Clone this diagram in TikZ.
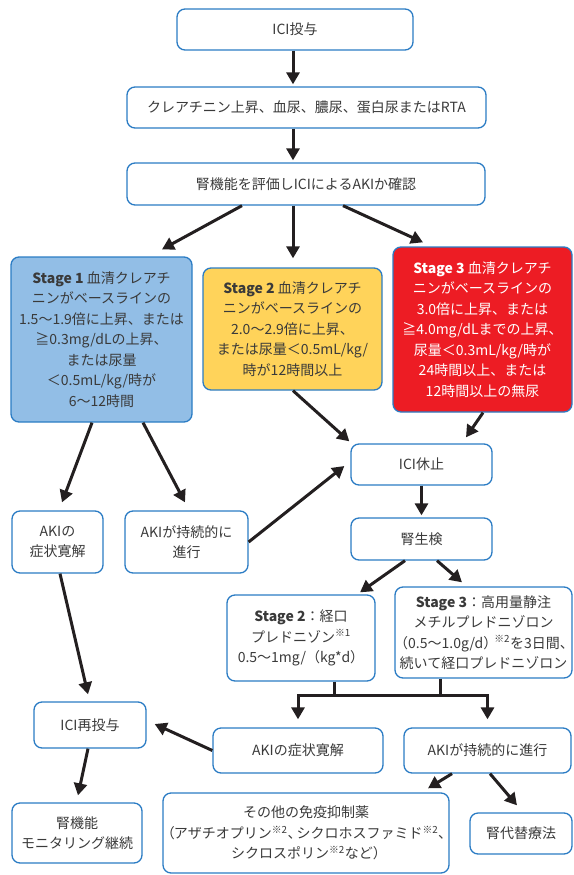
\documentclass[tikz,border=0pt]{standalone}
\usepackage{fontspec}
\setmainfont{Noto Sans CJK JP}
\usetikzlibrary{arrows.meta,calc}
\definecolor{bd}{HTML}{2B7CC4}
\definecolor{tx}{HTML}{3A3A3A}
\definecolor{ar}{HTML}{231F20}
\definecolor{sonec}{HTML}{92BEE6}
\definecolor{stwoc}{HTML}{FFD35A}
\definecolor{sthreec}{HTML}{ED1C24}
\newcommand{\kome}[1]{\textsuperscript{※#1}}
\tikzset{
  box/.style={draw=bd, line width=1.3pt, rounded corners=8pt, fill=white, text=tx,
    align=center, inner sep=0pt, font=\fontsize{14}{20.5}\selectfont},
  arr/.style={draw=ar, line width=3pt, -{Triangle[length=12pt,width=13pt]}},
  ln/.style={draw=ar, line width=3pt},
}
\begin{document}
\begin{tikzpicture}[x=1pt,y=-1pt]
\useasboundingbox (0,0) rectangle (573,875);
% top chain
\node[box, minimum width=236pt, minimum height=41pt] (n1) at (295,29.5) {ICI投与};
\node[box, minimum width=359pt, minimum height=41pt] (n2) at (306.5,107.5) {クレアチニン上昇、血尿、膿尿、蛋白尿またはRTA};
\node[box, minimum width=358pt, minimum height=42pt] (n3) at (306,184) {腎機能を評価しICIによるAKIか確認};
% stages
\node[box, fill=sonec, minimum width=181pt, minimum height=165pt] (s1) at (101.5,339.5)
  {\textbf{Stage 1} 血清クレアチ\\ニンがベースラインの\\1.5〜1.9倍に上昇、または\\≧0.3mg/dLの上昇、\\または尿量\\＜0.5mL/kg/時が\\6〜12時間};
\node[box, fill=stwoc, minimum width=179pt, minimum height=122pt] (s2) at (292.5,329)
  {\textbf{Stage 2} 血清クレアチ\\ニンがベースラインの\\2.0〜2.9倍に上昇、\\または尿量＜0.5mL/kg/\\時が12時間以上};
\node[box, fill=sthreec, text=white, minimum width=179pt, minimum height=165pt] (s3) at (482.5,329.5)
  {\textbf{Stage 3} 血清クレアチ\\ニンがベースラインの\\3.0倍に上昇、または\\≧4.0mg/dLまでの上昇、\\尿量＜0.3mL/kg/時が\\24時間以上、または\\12時間以上の無尿};
% stage 1 outcomes
\node[box, minimum width=91pt, minimum height=62pt] (a1) at (57.5,542) {AKIの\\症状寛解};
\node[box, minimum width=123pt, minimum height=62pt] (a2) at (186.5,542) {AKIが持続的に\\進行};
% right chain
\node[box, minimum width=141pt, minimum height=41pt] (stop) at (421.5,464.5) {ICI休止};
\node[box, minimum width=141pt, minimum height=42pt] (bx) at (421.5,539) {腎生検};
\node[box, minimum width=148pt, minimum height=86pt] (t2) at (301,638)
  {\textbf{Stage 2}：経口\\プレドニゾン\kome{1}\\0.5〜1mg/（kg*d）};
\node[box, minimum width=177pt, minimum height=91pt] (t3) at (483.5,632.5)
  {\textbf{Stage 3}：高用量静注\\メチルプレドニゾロン\\\kern-6pt（0.5〜1.0g/d）\kern-3pt\kome{2}を3日間、\kern-7pt\\続いて経口プレドニゾロン};
\node[box, minimum width=170pt, minimum height=45pt] (b1) at (298,750.5) {AKIの症状寛解};
\node[box, minimum width=167pt, minimum height=45pt] (b2) at (487.5,750.5) {AKIが持続的に進行};
\node[box, minimum width=112pt, minimum height=46pt] (re) at (90,725) {ICI再投与};
\node[box, minimum width=130pt, minimum height=60pt] (mon) at (77,833) {腎機能\\モニタリング継続};
\node[box, minimum width=286pt, minimum height=80pt] (oth) at (306,833)
  {その他の免疫抑制薬\\\kern-6pt（\kern-1pt アザチオプリン\kome{2}、\kern-5pt シクロホスファミド\kome{2}、\kern-7pt\\シクロスポリン\kome{2}など）\kern-6pt};
\node[box, minimum width=102pt, minimum height=41pt] (rrt) at (521,833.5) {腎代替療法};
% connectors
\draw[arr] ($(n1.south)+(-2,0)$) -- ($(n2.north)+(-13.5,-2)$);
\draw[arr] ($(n2.south)+(-13.5,0)$) -- ($(n3.north)+(-13,-2)$);
\draw[arr] ($(n3.south)+(-64,0)$) -- ($(s1.north)+(60.5,-7)$);
\draw[arr] ($(n3.south)+(-13,0)$) -- ($(s2.north)+(0.5,-9)$);
\draw[arr] ($(n3.south)+(37,0)$) -- ($(s3.north)+(-59.5,-4)$);
\draw[arr] ($(s1.south)+(-9.5,0)$) -- ($(a1.north)+(4.5,-8)$);
\draw[arr] ($(s1.south)+(41.5,0)$) -- ($(a2.north)+(-1.5,-8)$);
\draw[arr] (a2.east) -- ($(stop.west)+(-6,1.5)$);
\draw[arr] ($(s2.south)+(0.5,0)$) -- ($(stop.north west)+(-1,-2)$);
\draw[arr] ($(s3.south)+(0.5,0)$) -- ($(stop.north)+(44.5,-6)$);
\draw[arr] (stop.south) -- ($(bx.north)+(0,-2)$);
\draw[arr] ($(bx.south)+(-16.5,0)$) -- ($(t2.north)+(59,-2)$);
\draw[arr] ($(bx.south)+(15.5,0)$) -- ($(t3.north)+(-21.5,-4)$);
\coordinate (bar) at (0,695);
\draw[ln] ($(t2.south)+(33,0)$) -- ($(t2.south)+(33,14)$);
\draw[ln] ($(t3.south)+(-43.5,0)$) -- ($(t3.south)+(-43.5,17)$);
\draw[draw=ar, line width=3pt, line join=miter, {Triangle[length=12pt,width=13pt]}-{Triangle[length=12pt,width=13pt]}]
  ($(b1.north)+(0,-8)$) |- (b2.north |- bar) -- ($(b2.north)+(0,-8)$);
\draw[arr] (b1.west) -- ($(re.east)+(8,-1)$);
\draw[arr] ($(a1.south)+(2.5,0)$) -- ($(re.north)+(-2,-7)$);
\draw[arr] ($(re.south)+(-2,0)$) -- ($(mon.north)+(1,-7)$);
\draw[arr] ($(b2.south)+(-35.5,0)$) -- ($(oth.north)+(122,-4)$);
\draw[arr] ($(b2.south)+(2.5,0)$) -- ($(rrt.north)+(-4,-7)$);
\end{tikzpicture}
\end{document}
